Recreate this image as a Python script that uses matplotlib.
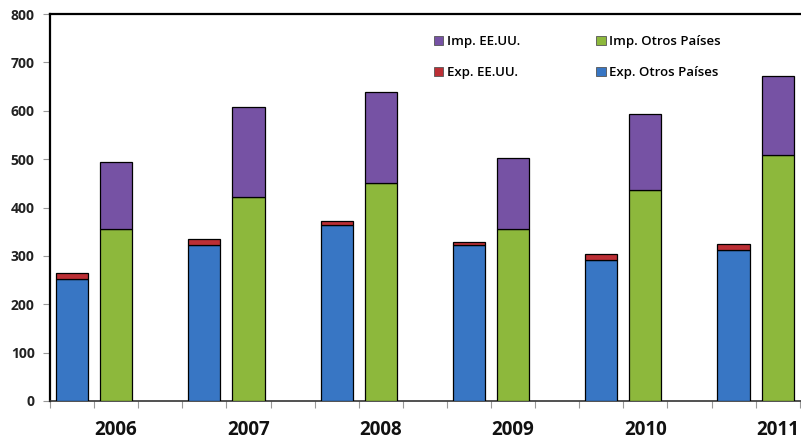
import matplotlib
matplotlib.use("Agg")
import matplotlib.pyplot as plt
import numpy as np

years = ['2006', '2007', '2008', '2009', '2010', '2011']
exp_otros = [252, 322, 364, 322, 291, 312]
exp_eeuu = [12, 12, 9, 7, 13, 12]
imp_otros = [356, 422, 451, 356, 436, 508]
imp_eeuu = [139, 185, 188, 146, 157, 164]
yticks = [0, 100, 200, 300, 400, 500, 600, 700, 800]

c_blue = '#3876C4'
c_red = '#BC2F35'
c_green = '#8DB83C'
c_purple = '#7652A4'

plt.rcParams['font.family'] = ['Open Sans', 'DejaVu Sans']

fig = plt.figure(figsize=(8.01, 4.42), dpi=100)
# category width ~44.1 px; the plot area runs off the right edge of the picture
cat_px = 44.1
left_px = 50
ax = fig.add_axes([left_px / 801, 1 - 401 / 442, (801 - left_px) / 801, 387 / 442])

n = len(years)
x_exp = np.arange(n) * 3
x_imp = np.arange(n) * 3 + 1
w = 0.73

b1 = ax.bar(x_exp, exp_otros, w, color=c_blue, edgecolor='black', linewidth=0.9, label='Exp. Otros Países', zorder=3)
b2 = ax.bar(x_exp, exp_eeuu, w, bottom=exp_otros, color=c_red, edgecolor='black', linewidth=0.9, label='Exp. EE.UU.', zorder=3)
b3 = ax.bar(x_imp, imp_otros, w, color=c_green, edgecolor='black', linewidth=0.9, label='Imp. Otros Países', zorder=3)
b4 = ax.bar(x_imp, imp_eeuu, w, bottom=imp_otros, color=c_purple, edgecolor='black', linewidth=0.9, label='Imp. EE.UU.', zorder=3)

ax.set_xlim(-0.5, -0.5 + (801 - left_px) / cat_px)
ax.set_ylim(0, 800)

ax.set_yticks(yticks)
ax.set_yticklabels([str(v) for v in yticks], fontsize=10, fontweight='bold', color='#222222')
ax.tick_params(axis='y', direction='out', length=5, width=0.8, color='#999999', pad=6)

ax.set_xticks(x_imp)
ax.set_xticklabels(years, fontsize=13.5, fontweight='bold', color='#111111')
ax.tick_params(axis='x', which='major', length=0, pad=14)
ax.set_xticks(np.arange(3 * n) - 0.5, minor=True)
ax.tick_params(axis='x', which='minor', direction='out', length=5, width=0.8, color='#999999')

for s in ['top', 'left']:
    ax.spines[s].set_color('black')
    ax.spines[s].set_linewidth(1.6)
ax.spines['right'].set_visible(False)
ax.spines['bottom'].set_color('#333333')
ax.spines['bottom'].set_linewidth(1.2)

leg = fig.legend([b4, b2, b3, b1], ['Imp. EE.UU.', 'Exp. EE.UU.', 'Imp. Otros Países', 'Exp. Otros Países'],
                 ncol=2, frameon=False, loc='upper left', bbox_to_anchor=(434 / 801, 1 - 35 / 442),
                 handlelength=0.7, handleheight=0.7, handletextpad=0.25, columnspacing=5.8,
                 labelspacing=1.4, borderpad=0, borderaxespad=0,
                 prop={'size': 9.5, 'weight': 'semibold'})
for h in leg.legend_handles:
    h.set_edgecolor('#555555')
    h.set_linewidth(0.6)

fig.savefig('out.png', dpi=100)
